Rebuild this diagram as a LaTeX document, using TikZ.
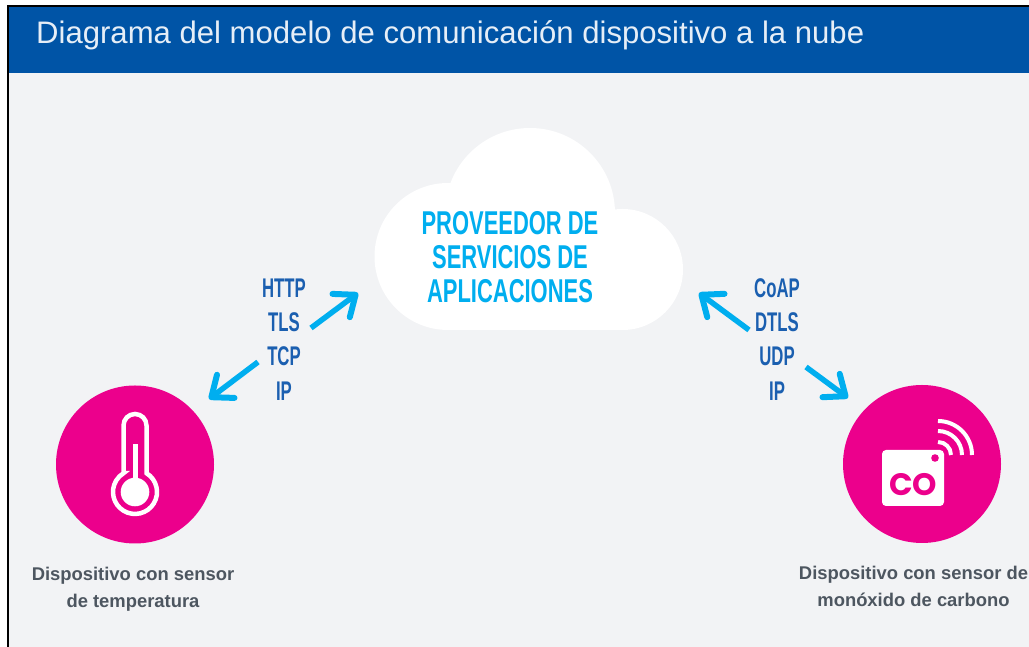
\documentclass[tikz,border=0pt]{standalone}
\usepackage{fontspec}
\usetikzlibrary{arrows.meta}
\setmainfont{Liberation Sans}
\newfontfamily\condfont[FakeStretch=0.62]{Liberation Sans}
\newfontfamily\cloudfont[FakeStretch=0.665]{Liberation Sans}
\newfontfamily\capfont{Liberation Sans}
\newfontfamily\cofont{Poppins}
\definecolor{hdrblue}{HTML}{0054A6}
\definecolor{pagebg}{HTML}{F2F3F5}
\definecolor{magent}{HTML}{EC008C}
\definecolor{cyanarrow}{HTML}{00AEEF}
\definecolor{protoblue}{HTML}{1B5FB0}
\definecolor{captiongrey}{HTML}{4D5660}
\definecolor{titlewhite}{HTML}{E6EEF7}
\tikzset{
  proto/.style={inner sep=0pt,text=protoblue,font=\condfont\bfseries\fontsize{27}{27}\selectfont},
  caption/.style={inner sep=0pt,align=center,text=captiongrey,font=\capfont\bfseries\fontsize{18.4}{27}\selectfont},
  flow/.style={line width=5.5pt,cyanarrow,-{Straight Barb[length=18pt,width=29pt,line width=6pt,round]}},
  device/.style={circle,fill=magent,minimum size=158pt,inner sep=0pt},
  icon/.style={white,line width=4.5pt},
  wave/.style={white,line width=4pt},
}
\begin{document}
\begin{tikzpicture}[x=1pt,y=1pt]
\useasboundingbox (0,0) rectangle (1029,647);
\fill[white] (0,0) rectangle (1029,647);
\fill[pagebg] (8,0) rectangle (1029,641);
\fill[hdrblue] (8,574) rectangle (1029,641);
\draw[black,line width=2pt] (8,0) -- (8,641) -- (1029,641);
\node[anchor=base west,inner sep=0pt,text=titlewhite,font=\fontsize{31.1}{32}\selectfont] (title) at (36,603) {Diagrama del modelo de comunicación dispositivo a la nube};
% cloud
\fill[white] (448,390.5) circle[radius=73.5];
\fill[white] (530,434) circle[radius=85];
\fill[white] (622.5,377.5) circle[radius=60.5];
\fill[white] (448,317) rectangle (622.5,400);
\node[inner sep=0pt,align=center,text=cyanarrow,font=\cloudfont\bfseries\fontsize{33}{33.7}\selectfont] (cloud) at (510,390) {PROVEEDOR DE\\SERVICIOS DE\\APLICACIONES};
% protocols
\node[proto] (http) at (284,359) {HTTP};
\node[proto] (tls) at (284,325) {TLS};
\node[proto] (tcp) at (284,291) {TCP};
\node[proto] (ipl) at (284,256) {IP};
\node[proto] (coap) at (777,359) {CoAP};
\node[proto] (dtls) at (777,325) {DTLS};
\node[proto] (udp) at (777,291) {UDP};
\node[proto] (ipr) at (777,256) {IP};
% devices
\node[device] (temp) at (135,182.5) {};
\node[device] (co) at (922,183) {};
% arrows
\coordinate (a1s) at (311,319); \coordinate (a1e) at (358,354);
\coordinate (a2s) at (258,285); \coordinate (a2e) at (209,248);
\coordinate (a3s) at (749,317); \coordinate (a3e) at (699,354);
\coordinate (a4s) at (806,280); \coordinate (a4e) at (848,249);
\draw[flow] (a1s) -- (a1e);
\draw[flow] (a2s) -- (a2e);
\draw[flow] (a3s) -- (a3e);
\draw[flow] (a4s) -- (a4e);
% thermometer
\draw[icon] (123.5,173.8) -- (123.5,221.5) arc[start angle=180,end angle=0,radius=11.5] -- (146.5,173.8) arc[start angle=58.5,end angle=-238.5,radius=22] -- cycle;
\fill[white] (135,155) circle[radius=14.3];
\fill[white] (132.5,160) rectangle (137.5,203);
% CO sensor
\fill[white,rounded corners=4pt] (882,141) rectangle (944,197);
\fill[magent] (935,189) circle[radius=3.8];
\node[inner sep=0pt,text=magent,font=\cofont\bfseries\fontsize{31}{31}\selectfont] (colabel) at (913,162) {CO};
\draw[wave] (938,192) ++(13,0) arc[start angle=0,end angle=90,radius=13];
\draw[wave] (938,192) ++(24,0) arc[start angle=0,end angle=90,radius=24];
\draw[wave] (938,192) ++(34,0) arc[start angle=0,end angle=90,radius=34];
% captions
\node[caption] (ctemp) at (133,57.5) {Dispositivo con sensor\\de temperatura};
\node[caption,anchor=north] (cco) at (913.5,81) {Dispositivo con sensor de\\monóxido de carbono};
\end{tikzpicture}
\end{document}
